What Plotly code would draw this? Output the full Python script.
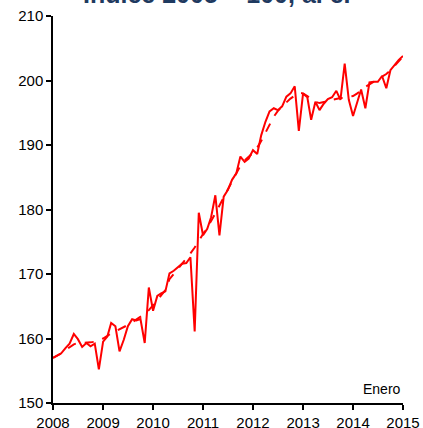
import plotly.graph_objects as go
import pandas as pd

# monthly, January 2008 to January 2015
months = pd.date_range("2008-01-01", periods=85, freq="MS")

# seasonally adjusted series (solid)
serie = [
    157.0, 157.3, 157.7, 158.5, 159.2, 160.7, 159.9, 158.7, 159.3, 158.8, 159.2, 155.2,
    159.5, 160.3, 162.4, 161.9, 158.0, 159.8, 161.9, 163.0, 162.8, 163.0, 159.3, 167.9,
    164.3, 166.6, 167.0, 167.3, 170.1, 170.5, 171.0, 171.6, 171.7, 172.6, 161.1, 179.5,
    176.0, 177.0, 178.8, 182.2, 176.0, 182.0, 183.0, 184.6, 185.6, 188.2, 187.4, 187.9,
    189.2, 188.6, 191.5, 193.6, 195.2, 195.7, 195.4, 196.0, 197.5, 198.0, 199.1, 192.2,
    198.0, 197.4, 193.9, 196.7, 195.4, 196.4, 197.1, 197.4, 198.4, 197.0, 202.6, 197.0,
    194.5, 196.7, 198.6, 195.7, 199.7, 199.8, 199.8, 200.7, 198.8, 201.6, 202.4, 203.2,
    203.8,
]

# trend (dashed)
tendencia = [
    157.0, 157.3, 157.7, 158.2, 158.7, 159.1, 159.3, 159.3, 159.3, 159.4, 159.5, 159.7,
    160.0, 160.4, 160.8, 161.1, 161.4, 161.7, 162.1, 162.5, 162.9, 163.3, 163.8, 164.4,
    165.1, 165.9, 166.7, 167.5, 169.2, 170.0, 170.7, 171.5, 172.3, 173.2, 174.1, 175.1,
    176.1, 177.1, 178.2, 179.4, 180.6, 181.8, 183.0, 184.3, 185.6, 186.8, 187.6, 188.2,
    188.8, 189.6, 190.6, 191.9, 193.2, 194.4, 195.3, 196.0, 196.6, 197.2, 197.7, 198.1,
    198.0, 197.6, 197.1, 196.7, 196.5, 196.6, 196.8, 197.0, 197.2, 197.3, 197.3, 197.4,
    197.6, 198.0, 198.5, 199.0, 199.4, 199.8, 200.2, 200.6, 201.0, 201.6, 202.3, 203.0,
    203.7,
]

fig = go.Figure()
fig.add_trace(
    go.Scatter(
        x=months, y=tendencia, mode="lines",
        line=dict(color="#FF0000", width=2, dash="dash"), name="Tendencia",
    )
)
fig.add_trace(
    go.Scatter(
        x=months, y=serie, mode="lines",
        line=dict(color="#FF0000", width=2), name="Serie",
    )
)

fig.update_xaxes(
    range=["2008-01-01", "2015-01-01"],
    tickformat="%Y", dtick="M12", tick0="2008-01-01",
    showline=True, linecolor="black", linewidth=1.5,
    ticks="outside", ticklen=5, tickcolor="black", tickwidth=1.5,
    showgrid=False, zeroline=False, automargin=False,
    tickfont=dict(family="Liberation Sans, Arial", size=15, color="black"),
)
fig.update_yaxes(
    range=[150, 210], dtick=10,
    showline=True, linecolor="black", linewidth=1.5,
    ticks="outside", ticklen=5, tickcolor="black", tickwidth=1.5,
    showgrid=False, zeroline=False, automargin=False,
    tickfont=dict(family="Liberation Sans, Arial", size=15, color="black"),
)

# title, partly cut off at the top of the picture
fig.add_annotation(
    text="<b>Índice 2005 = 100, a. e.</b>", xref="paper", yref="paper",
    x=0.469, y=1.058, xanchor="center", yanchor="middle", showarrow=False,
    font=dict(family="Liberation Sans, Arial", size=25, color="#1F3A60"),
)
fig.add_annotation(
    text="Enero", xref="paper", yref="paper",
    x=1.0, y=0.01, xanchor="right", yanchor="bottom", showarrow=False,
    font=dict(family="Liberation Sans, Arial", size=14, color="black"),
)

fig.update_layout(
    width=423, height=428,
    margin=dict(l=53, r=20, t=16, b=25, autoexpand=False),
    paper_bgcolor="white", plot_bgcolor="white",
    showlegend=False,
)

# drop the page's default body margin so the figure sits at the corner
fig.write_html(
    "out.html",
    config={"displayModeBar": False},
    post_script="document.body.style.margin='0px';",
)
